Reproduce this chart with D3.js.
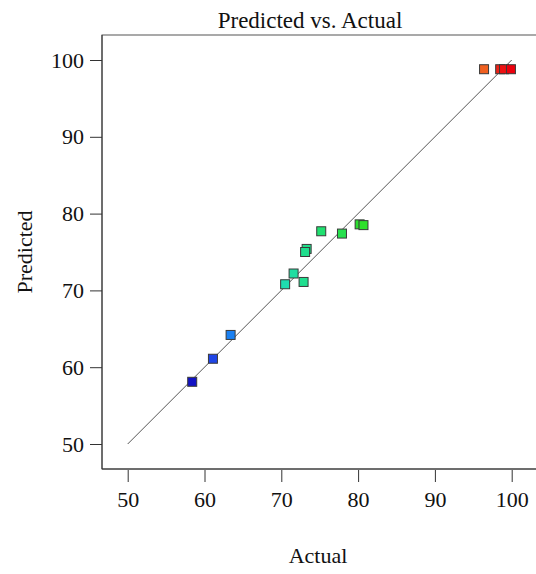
<!DOCTYPE html>
<meta charset="utf-8">
<script src="https://d3js.org/d3.v7.min.js"></script>
<style>
  body { margin: 0; background: #fff; }
  text { font-family: "Liberation Serif", "Times New Roman", serif; fill: #111; }
</style>
<div id="chart"></div>
<script>

// data
var actual    = [58.4, 61.1, 63.4, 70.5, 71.6, 72.9, 73.3, 73.1, 75.2, 77.9, 80.2, 80.7, 96.4, 98.5, 99.0, 99.9];
var predicted = [58.1, 61.1, 64.2, 70.8, 72.2, 71.1, 75.4, 75.0, 77.7, 77.4, 78.6, 78.5, 98.8, 98.8, 98.8, 98.8];
var ticks = [50, 60, 70, 80, 90, 100];

// colour ramp by actual value (blue -> green -> red)
var colorStops = [58.4, 61.1, 63.4, 70.5, 75.2, 80.7, 90, 96.4, 99.0];
var colorRange = ["#1212c4", "#1f45e6", "#1a80f2", "#1fdcb0", "#20e070", "#2ee02a", "#e0e020", "#f06020", "#ee1212"];

var width = 536, height = 574;
var box = {left: 102, top: 35, bottom: 469, right: 560};

var svg = d3.select("#chart")
  .append("svg")
    .attr("width", width)
    .attr("height", height);

var x = d3.scaleLinear().domain([50, 100]).range([127.7, 511.7]);
var y = d3.scaleLinear().domain([50, 100]).range([444, 60]);
var color = d3.scaleLinear().domain(colorStops).range(colorRange);

// frame
svg.append("rect")
  .attr("x", box.left)
  .attr("y", box.top)
  .attr("width", box.right - box.left)
  .attr("height", box.bottom - box.top)
  .attr("fill", "none")
  .attr("stroke", "#555")
  .attr("stroke-width", 1);

// x axis
var gx = svg.append("g")
  .attr("transform", "translate(0," + (box.bottom + 1) + ")")
  .call(d3.axisBottom(x).tickValues(ticks).tickSize(12).tickSizeOuter(0).tickPadding(9));
gx.select(".domain").remove();
gx.selectAll("line").attr("stroke", "#333");
gx.selectAll("text").style("font-size", "22px").attr("fill", "#111");

// y axis
var gy = svg.append("g")
  .attr("transform", "translate(" + box.left + ",0)")
  .call(d3.axisLeft(y).tickValues(ticks).tickSize(12).tickSizeOuter(0).tickPadding(6));
gy.select(".domain").remove();
gy.selectAll("line").attr("stroke", "#333");
gy.selectAll("text").style("font-size", "22px").attr("fill", "#111");

// axis lines darker
svg.append("line")
  .attr("x1", box.left).attr("x2", box.left)
  .attr("y1", box.top).attr("y2", box.bottom)
  .attr("stroke", "#333");
svg.append("line")
  .attr("x1", box.left).attr("x2", width)
  .attr("y1", box.bottom).attr("y2", box.bottom)
  .attr("stroke", "#333");

// y = x reference line
svg.append("line")
  .attr("x1", x(50)).attr("y1", y(50))
  .attr("x2", x(100)).attr("y2", y(100))
  .attr("stroke", "#555")
  .attr("stroke-width", 1);

// points
var s = 9;
svg.selectAll("rect.pt")
  .data(actual.map(function(a, i) { return {a: a, p: predicted[i]}; }))
  .enter()
  .append("rect")
    .attr("class", "pt")
    .attr("x", function(d) { return x(d.a) - s / 2; })
    .attr("y", function(d) { return y(d.p) - s / 2; })
    .attr("width", s)
    .attr("height", s)
    .attr("fill", function(d) { return color(d.a); })
    .attr("stroke", "#3a3a3a")
    .attr("stroke-width", 1);

// titles
svg.append("text")
  .attr("x", 310)
  .attr("y", 28)
  .attr("text-anchor", "middle")
  .style("font-size", "23px")
  .text("Predicted vs. Actual");

svg.append("text")
  .attr("x", 318)
  .attr("y", 563)
  .attr("text-anchor", "middle")
  .style("font-size", "22px")
  .text("Actual");

svg.append("text")
  .attr("transform", "translate(32,252) rotate(-90)")
  .attr("text-anchor", "middle")
  .style("font-size", "22px")
  .text("Predicted");

</script>
